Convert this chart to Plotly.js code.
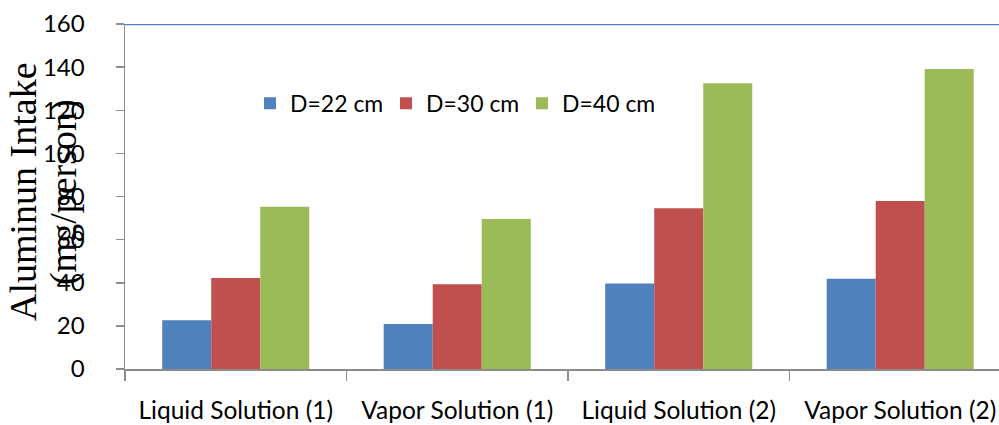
<!DOCTYPE html>
<html>
<head>
<meta charset="utf-8">
<script src="https://cdn.plot.ly/plotly-3.0.1.min.js"></script>
<style>html,body{margin:0;padding:0;background:#fff;}#chart{width:999px;height:425px;}</style>
</head>
<body>
<div id="chart"></div>
<script>
var categories = ["Liquid Solution (1)", "Vapor Solution (1)", "Liquid Solution (2)", "Vapor Solution (2)"];
var seriesNames = ["D=22 cm", "D=30 cm", "D=40 cm"];
var d22 = [22.6, 20.9, 39.7, 41.9];
var d30 = [42.2, 39.3, 74.5, 77.9];
var d40 = [75.3, 69.6, 132.5, 139.1];
var colors = ["#4F81BD", "#C0504D", "#9BBB59"];
var yTitleLines = ["Aluminun Intake", "(mg/person)"];

var sansFont = "Lato, sans-serif";
var values = [d22, d30, d40];
var traces = values.map(function (v, i) {
  return {
    type: "bar",
    name: seriesNames[i],
    x: categories,
    y: v,
    marker: {color: colors[i], line: {width: 0}},
    hoverinfo: "x+y+name"
  };
});

var layout = {
  width: 999,
  height: 425,
  margin: {l: 125, r: 0, t: 24, b: 56},
  paper_bgcolor: "#ffffff",
  plot_bgcolor: "#ffffff",
  barmode: "group",
  bargap: 0.336,
  bargroupgap: 0,
  showlegend: true,
  legend: {
    orientation: "h",
    x: 0.143, xanchor: "left",
    y: 0.77, yanchor: "middle",
    font: {family: sansFont, size: 23, color: "#000"},
    bgcolor: "rgba(0,0,0,0)",
    entrywidth: 91,
    entrywidthmode: "pixels"
  },
  xaxis: {
    type: "category",
    range: [-0.5, 3.446],
    showgrid: false,
    zeroline: false,
    showline: true,
    linecolor: "#8c8c8c",
    linewidth: 1.5,
    ticks: "outside",
    tickson: "boundaries",
    ticklen: 10,
    tickcolor: "#8c8c8c",
    tickwidth: 1.5,
    ticklabelstandoff: 19,
    tickfont: {family: sansFont, size: 24.5, color: "#000"},
    fixedrange: true
  },
  yaxis: {
    range: [0, 160],
    dtick: 20,
    showgrid: false,
    zeroline: false,
    showline: true,
    linecolor: "#8c8c8c",
    linewidth: 1.5,
    ticks: "outside",
    ticklen: 8,
    tickcolor: "#8c8c8c",
    tickwidth: 1.5,
    ticklabelstandoff: 26,
    tickfont: {family: sansFont, size: 24, color: "#000"},
    fixedrange: true
  },
  shapes: [{
    type: "line", xref: "paper", yref: "y",
    x0: 0, x1: 1, y0: 160, y1: 160,
    line: {color: "#4F81BD", width: 2.5},
    layer: "above"
  }],
  annotations: [
    {text: yTitleLines[0], xref: "paper", yref: "paper", x: -0.1167, y: 0.513,
     xanchor: "center", yanchor: "middle", textangle: -90, showarrow: false,
     font: {family: "Liberation Serif, Times New Roman, serif", size: 38, color: "#000"}},
    {text: yTitleLines[1], xref: "paper", yref: "paper", x: -0.0709, y: 0.513,
     xanchor: "center", yanchor: "middle", textangle: -90, showarrow: false,
     font: {family: "Liberation Serif, Times New Roman, serif", size: 38, color: "#000"}}
  ]
};

Plotly.newPlot("chart", traces, layout, {displayModeBar: false, staticPlot: true});
</script>
</body>
</html>
